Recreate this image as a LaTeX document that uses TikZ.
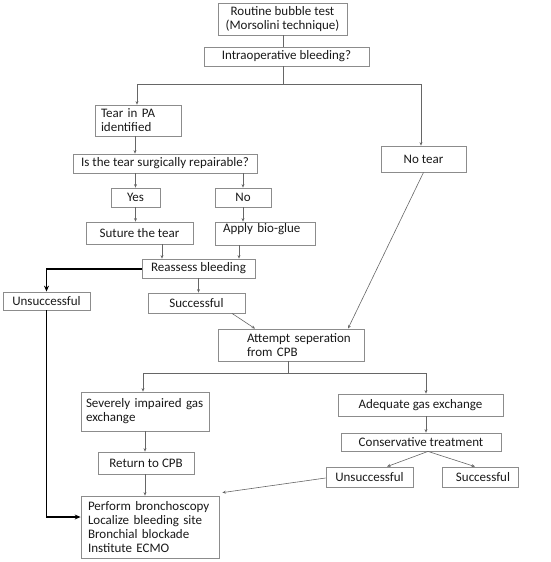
\documentclass[tikz,border=0pt]{standalone}
\usepackage{fontspec}
\setmainfont{Carlito}
\usetikzlibrary{arrows.meta}
\begin{document}
\begin{tikzpicture}[x=1pt,y=-1pt,
  font=\fontsize{13}{14}\selectfont,
  every node/.style={text=black!90},
  box/.style={draw=black!45,line width=0.8pt,inner sep=0pt,align=center},
  lbox/.style={draw=black!45,line width=0.8pt,inner ysep=0pt,align=left},
  conn/.style={draw=black!60,line width=0.6pt},
  arr/.style={conn,-{Stealth[length=3.5pt,width=3pt]}},
  thickarr/.style={draw=black,line width=1.1pt,-{Stealth[length=6pt,width=5pt]}}]
\useasboundingbox (0,0) rectangle (550,562);
% nodes
\node[box,minimum width=129pt,minimum height=32pt] (bubble) at (282.5,19) {Routine bubble test\\(Morsolini technique)};
\node[box,minimum width=165pt,minimum height=19pt] (intra) at (286.5,56.5) {Intraoperative bleeding?};
\node[lbox,inner xsep=6pt,text width=74pt,minimum height=31pt] (tear) at (138,120.5) {Tear in PA\\identified};
\node[box,minimum width=184pt,minimum height=19pt] (repair) at (165,163.5) {Is the tear surgically repairable?};
\node[box,minimum width=85pt,minimum height=26pt] (notear) at (423.5,159) {No tear};
\node[box,minimum width=49pt,minimum height=19pt] (yes) at (135.5,197.5) {Yes};
\node[box,minimum width=56pt,minimum height=19pt] (no) at (243,197.5) {No};
\node[box,minimum width=107pt,minimum height=22pt] (suture) at (139.5,233) {Suture the tear};
\node[lbox,inner xsep=8pt,text width=84pt,minimum height=23pt] (glue) at (265,233.5) {Apply bio-glue\\[-3pt]\mbox{}};
\node[box,minimum width=113pt,minimum height=19pt] (reassess) at (198.5,268.5) {Reassess bleeding};
\node[box,minimum width=87pt,minimum height=18pt] (unsuc1) at (46.5,301) {Unsuccessful};
\node[box,minimum width=97pt,minimum height=20pt] (suc1) at (196.5,303) {Successful};
\node[lbox,inner xsep=0pt,text width=146pt,minimum height=32pt] (attempt) at (291,345) {\hspace*{29pt}Attempt seperation\\\hspace*{29pt}from CPB};
\node[lbox,inner xsep=5pt,text width=118pt,minimum height=39pt] (severe) at (145,411.5) {Severely impaired gas\\exchange};
\node[box,minimum width=165pt,minimum height=22pt] (adequate) at (420.5,405) {Adequate gas exchange};
\node[box,minimum width=160pt,minimum height=18pt] (conserv) at (421,442) {Conservative treatment};
\node[box,minimum width=96pt,minimum height=22pt] (return) at (146,463) {Return to CPB};
\node[box,minimum width=87pt,minimum height=20pt] (unsuc2) at (369.5,477) {Unsuccessful};
\node[box,minimum width=76pt,minimum height=20pt] (suc2) at (480,477) {\hspace*{6pt}Successful};
\node[lbox,inner xsep=7pt,text width=124pt,minimum height=62pt] (perform) at (150,527) {Perform bronchoscopy\\Localize bleeding site\\Bronchial blockade\\Institute ECMO};
% junctions
\coordinate (j1) at (283,84);
\coordinate (j2) at (288,373);
\coordinate (ja) at (426,373);
% connectors
\draw[conn] (bubble.south -| j1) -- (intra.north -| j1);
\draw[conn] (intra.south -| j1) -- (j1);
\draw[arr] (j1) -| ([xshift=-1pt]tear.north);
\draw[arr] (j1) -| ([xshift=-2.5pt]notear.north);
\draw[arr] ([xshift=-3pt]tear.south) -- ([xshift=-3pt]tear.south |- repair.north);
\draw[arr] (yes.north |- repair.south) -- (yes.north);
\draw[arr] (no.north |- repair.south) -- (no.north);
\draw[arr] (yes.south) -- (yes.south |- suture.north);
\draw[arr] (no.south) -- (no.south |- glue.north);
\draw[arr] ([xshift=22.5pt]suture.south) -- ([xshift=22.5pt]suture.south |- reassess.north);
\draw[arr] ([xshift=-26pt]glue.south) -- ([xshift=-26pt]glue.south |- reassess.north);
\draw[thickarr] ([yshift=-0.5pt]reassess.west) -| (unsuc1.north);
\draw[arr] (reassess.south) -- (reassess.south |- suc1.north);
\draw[arr] ([xshift=35.5pt]suc1.south) -- ([xshift=-36pt]attempt.north);
\draw[arr] (notear.south) -- ([xshift=57pt]attempt.north);
\draw[conn] (attempt.south -| j2) -- (j2);
\draw[arr] (j2) -| ([xshift=-2pt]severe.north);
\draw[arr] (j2) -| (ja) -- (ja |- adequate.north);
\draw[arr] (ja |- adequate.south) -- (ja |- conserv.north);
\draw[arr] ([xshift=7pt]conserv.south) -- ([xshift=17.5pt]unsuc2.north);
\draw[arr] ([xshift=7pt]conserv.south) -- ([xshift=-5pt]suc2.north);
\draw[arr] (severe.south) -- (severe.south |- return.north);
\draw[arr] ([xshift=-1pt]return.south) -- ([xshift=-1pt]return.south |- perform.north);
\draw[arr] ([yshift=-1pt]unsuc2.west) -- ([xshift=3pt,yshift=3pt]perform.north east);
\draw[thickarr] (unsuc1.south) |- ([yshift=10pt]perform.west);
\end{tikzpicture}
\end{document}
